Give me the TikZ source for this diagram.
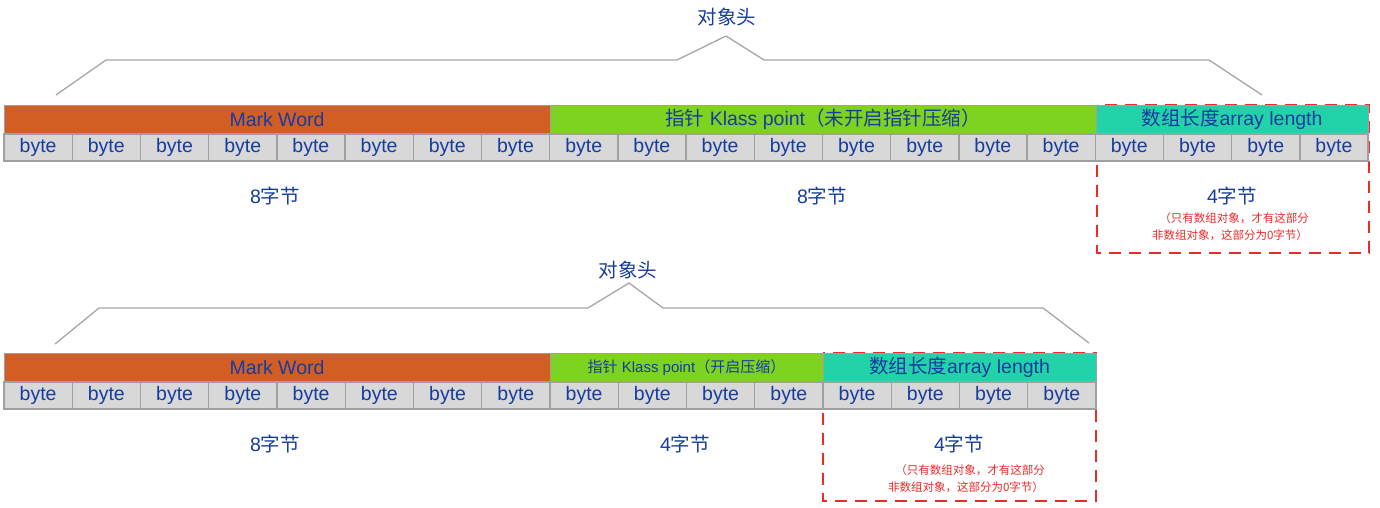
\documentclass[tikz,border=0pt]{standalone}
\usepackage{fontspec}
\setmainfont{Liberation Sans}
\newfontfamily\cjk{Noto Sans CJK SC}
\definecolor{txtblue}{RGB}{22,60,160}
\definecolor{mworange}{RGB}{211,94,36}
\definecolor{klgreen}{RGB}{126,211,33}
\definecolor{arteal}{RGB}{34,210,168}
\definecolor{cellgray}{RGB}{216,216,216}
\definecolor{cellline}{RGB}{160,160,160}
\definecolor{bracegray}{RGB}{166,166,166}
\definecolor{redline}{RGB}{240,40,40}
\begin{document}
\begin{tikzpicture}[x=1pt,y=-1pt,
  barbox/.style={anchor=north west,inner sep=0pt,outer sep=0pt,minimum height=29pt,draw=cellline,line width=0.6pt,text=txtblue,font=\fontsize{19.5}{22}\selectfont},
  bytecell/.style={anchor=north west,inner sep=0pt,outer sep=0pt,minimum height=27pt,fill=cellgray,draw=cellline,line width=1.4pt,text=txtblue,font=\fontsize{19.5}{22}\selectfont},
  lbl/.style={inner sep=0pt,text=txtblue,font=\fontsize{19.5}{22}\selectfont},
  note/.style={inner sep=0pt,text=redline,font=\fontsize{11.5}{13}\selectfont},
  bracket/.style={draw=bracegray,line width=1.3pt},
  redbox/.style={draw=redline,line width=1.4pt,dash pattern=on 12pt off 8pt}]
\useasboundingbox (0,0) rectangle (1380,508);
% ---------- top diagram ----------
\node[lbl] (head1) at (727,17) {\cjk 对象头};
\draw[bracket] (56,95) -- (106,60) -- (677,60) -- (726,36) -- (764,60) -- (1209,60) -- (1262,95);
\draw[redbox] (1097,105) rectangle (1369,253);
\node[barbox,fill=mworange,minimum width=546pt] (mw1) at (4,105) {Mark Word};
\node[barbox,fill=klgreen,minimum width=546pt] (kl1) at (550,105) {{\cjk 指针} Klass point{\cjk （未开启指针压缩）}};
\node[barbox,fill=arteal,minimum width=272pt] (ar1) at (1096,105) {{\cjk 数组长度}array length};
\foreach \i in {0,...,19}
  \node[bytecell,minimum width=68.2pt] (ta\i) at ({4+68.2*\i},134) {byte};
\node[lbl] (s1a) at (275,196) {8{\cjk 字节}};
\node[lbl] (s1b) at (822,196) {8{\cjk 字节}};
\node[lbl] (s1c) at (1232,196) {4{\cjk 字节}};
\node[note] (n1a) at (1234,218) {\cjk （只有数组对象，才有这部分};
\node[note] (n1b) at (1230,235) {\cjk 非数组对象，这部分为0字节）};
% ---------- bottom diagram ----------
\node[lbl] (head2) at (628,270) {\cjk 对象头};
\draw[bracket] (55,344) -- (99,308) -- (588,308) -- (629,283) -- (663,308) -- (1043,308) -- (1089,343);
\draw[redbox] (823,353) rectangle (1096,501);
\node[barbox,fill=mworange,minimum width=546pt] (mw2) at (4,353) {Mark Word};
\node[barbox,fill=klgreen,minimum width=273pt,font=\fontsize{15}{18}\selectfont] (kl2) at (550,353) {{\cjk 指针} Klass point{\cjk （开启压缩）}};
\node[barbox,fill=arteal,minimum width=273pt] (ar2) at (823,353) {{\cjk 数组长度}array length};
\foreach \i in {0,...,15}
  \node[bytecell,minimum width=68.25pt] (ba\i) at ({4+68.25*\i},382) {byte};
\node[lbl] (s2a) at (275,444) {8{\cjk 字节}};
\node[lbl] (s2b) at (685,444) {4{\cjk 字节}};
\node[lbl] (s2c) at (959,444) {4{\cjk 字节}};
\node[note] (n2a) at (970,470) {\cjk （只有数组对象，才有这部分};
\node[note] (n2b) at (966,487) {\cjk 非数组对象，这部分为0字节）};
\end{tikzpicture}
\end{document}
